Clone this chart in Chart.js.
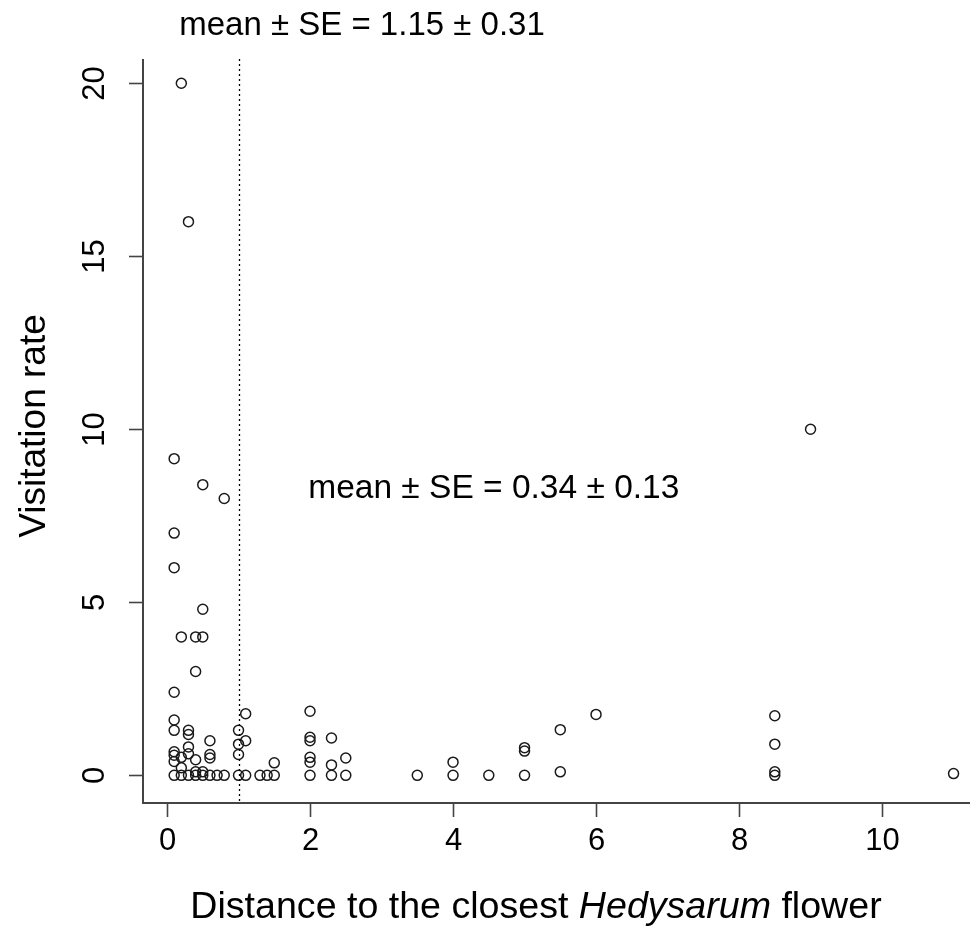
<!DOCTYPE html>
<html>
<head>
<meta charset="utf-8">
<script src="https://cdn.jsdelivr.net/npm/chart.js@4.4.1/dist/chart.umd.min.js"></script>
<style>
  html, body { margin: 0; padding: 0; background: #ffffff; }
  #wrap { width: 970px; height: 928px; }
</style>
</head>
<body>
<div id="wrap"><canvas id="c" width="970" height="928"></canvas></div>
<script>
// ---- data ----
const distance = [
  0.2, 0.3, 0.1, 0.5, 0.8, 0.1, 0.1, 0.5, 0.2, 0.4, 0.5, 0.4, 0.1, 0.1, 0.1,
  0.3, 0.3, 0.6, 0.3, 0.1, 0.1, 0.1, 0.2, 0.3, 0.4, 0.6, 0.6, 0.2, 0.4, 0.5,
  0.1, 0.2, 0.3, 0.4, 0.5, 0.6, 0.7, 0.8,
  1.0, 1.1, 1.1, 1.0, 1.0, 1.0, 1.1, 1.3, 1.4, 1.5, 1.5,
  2.0, 2.0, 2.0, 2.3, 2.0, 2.0, 2.3, 2.5, 2.0, 2.3, 2.5,
  3.5, 4.0, 4.0, 4.5, 5.0, 5.0, 5.0, 5.5, 5.5, 6.0,
  8.5, 8.5, 8.5, 8.5, 9.0, 11.0
];
const visitation = [
  20, 16, 9.15, 8.4, 8.0, 7, 6, 4.8, 4, 4, 4, 3, 2.4, 1.6, 1.3,
  1.3, 1.18, 1.0, 0.82, 0.68, 0.58, 0.4, 0.52, 0.62, 0.45, 0.6, 0.5, 0.22, 0.1, 0.1,
  0, 0, 0, 0, 0, 0, 0, 0,
  1.3, 1.78, 1.0, 0.9, 0.6, 0, 0, 0, 0, 0, 0.36,
  1.85, 1.1, 1.0, 1.08, 0.52, 0.38, 0.3, 0.5, 0, 0, 0,
  0, 0.38, 0, 0, 0.8, 0.7, 0, 1.32, 0.1, 1.76,
  1.72, 0.9, 0.1, 0, 10, 0.05
];
const xTicks = [0, 2, 4, 6, 8, 10];
const yTicks = [0, 5, 10, 15, 20];
const thresholdDistance = 1;
const noteTop = "mean ± SE = 1.15 ± 0.31";
const noteRight = "mean ± SE = 0.34 ± 0.13";
const noteRightPos = [4.57, 8.3];
const xTitleParts = ["Distance to the closest ", "Hedysarum", " flower"];
const yTitle = "Visitation rate";

const FONT = '"Liberation Sans", Arial, "DejaVu Sans", sans-serif';

const points = distance.map((d, i) => ({ x: d, y: visitation[i] }));

const rPlot = {
  id: 'rPlot',
  afterDraw(chart) {
    const ctx = chart.ctx;
    const xs = chart.scales.x, ys = chart.scales.y;
    const a = chart.chartArea;
    ctx.save();
    // axis lines (L-shaped box)
    ctx.strokeStyle = '#444444';
    ctx.lineWidth = 2;
    ctx.beginPath();
    ctx.moveTo(a.left, a.top);
    ctx.lineTo(a.left, a.bottom);
    ctx.lineTo(a.right, a.bottom);
    ctx.stroke();

    // x ticks and labels
    ctx.fillStyle = '#000000';
    ctx.lineWidth = 1.6;
    ctx.font = '31px ' + FONT;
    ctx.textAlign = 'center';
    ctx.textBaseline = 'alphabetic';
    xs.ticks.forEach(t => {
      const px = Math.round(xs.getPixelForValue(t.value)) + 0.5;
      ctx.beginPath();
      ctx.moveTo(px, a.bottom);
      ctx.lineTo(px, a.bottom + 14);
      ctx.stroke();
      ctx.fillText(String(t.value), px, 850);
    });

    // y ticks and rotated labels
    ys.ticks.forEach(t => {
      const py = Math.round(ys.getPixelForValue(t.value)) + 0.5;
      ctx.beginPath();
      ctx.moveTo(a.left, py);
      ctx.lineTo(a.left - 14, py);
      ctx.stroke();
      ctx.save();
      ctx.translate(104, py);
      ctx.rotate(-Math.PI / 2);
      ctx.textAlign = 'center';
      ctx.fillText(String(t.value), 0, 0);
      ctx.restore();
    });

    // dotted vertical line at threshold
    const dx = Math.round(xs.getPixelForValue(thresholdDistance)) + 0.5;
    ctx.strokeStyle = '#000000';
    ctx.lineWidth = 1.3;
    ctx.setLineDash([2, 3]);
    ctx.beginPath();
    ctx.moveTo(dx, a.top);
    ctx.lineTo(dx, a.bottom);
    ctx.stroke();
    ctx.setLineDash([]);

    // annotations
    ctx.font = '33px ' + FONT;
    ctx.textAlign = 'center';
    ctx.fillText(noteTop, 362, 35);
    ctx.font = '33.5px ' + FONT;
    ctx.fillText(noteRight, xs.getPixelForValue(noteRightPos[0]), ys.getPixelForValue(noteRightPos[1]) + 10);

    // x title with italic genus
    const fN = '37.6px ' + FONT, fI = 'italic 37.6px ' + FONT;
    ctx.font = fN; const w0 = ctx.measureText(xTitleParts[0]).width;
    ctx.font = fI; const w1 = ctx.measureText(xTitleParts[1]).width;
    ctx.font = fN; const w2 = ctx.measureText(xTitleParts[2]).width;
    let sx = 536 - (w0 + w1 + w2) / 2;
    ctx.textAlign = 'left';
    ctx.font = fN; ctx.fillText(xTitleParts[0], sx, 918); sx += w0;
    ctx.font = fI; ctx.fillText(xTitleParts[1], sx, 918); sx += w1;
    ctx.font = fN; ctx.fillText(xTitleParts[2], sx, 918);

    // y title
    ctx.save();
    ctx.translate(45, 426);
    ctx.rotate(-Math.PI / 2);
    ctx.textAlign = 'center';
    ctx.font = '37px ' + FONT;
    ctx.fillText(yTitle, 0, 0);
    ctx.restore();

    ctx.restore();
  }
};

new Chart(document.getElementById('c'), {
  type: 'scatter',
  data: {
    datasets: [{
      data: points,
      pointStyle: 'circle',
      pointRadius: 5,
      pointHoverRadius: 5,
      borderWidth: 1.5,
      borderColor: '#1a1a1a',
      backgroundColor: 'rgba(0,0,0,0)',
      clip: false
    }]
  },
  options: {
    responsive: false,
    animation: false,
    devicePixelRatio: 1,
    events: [],
    layout: { autoPadding: false, padding: { top: 59, right: 0, left: 0, bottom: 0 } },
    plugins: { legend: { display: false }, tooltip: { enabled: false }, title: { display: false } },
    scales: {
      x: {
        type: 'linear',
        min: -0.336, max: 11.23,
        grid: { display: false },
        border: { display: false },
        ticks: { display: false },
        afterBuildTicks: s => { s.ticks = xTicks.map(v => ({ value: v })); },
        afterFit: s => { s.height = 125; }
      },
      y: {
        type: 'linear',
        min: -0.8, max: 20.7,
        grid: { display: false },
        border: { display: false },
        ticks: { display: false },
        afterBuildTicks: s => { s.ticks = yTicks.map(v => ({ value: v })); },
        afterFit: s => { s.width = 143; }
      }
    }
  },
  plugins: [rPlot]
});
</script>
</body>
</html>
